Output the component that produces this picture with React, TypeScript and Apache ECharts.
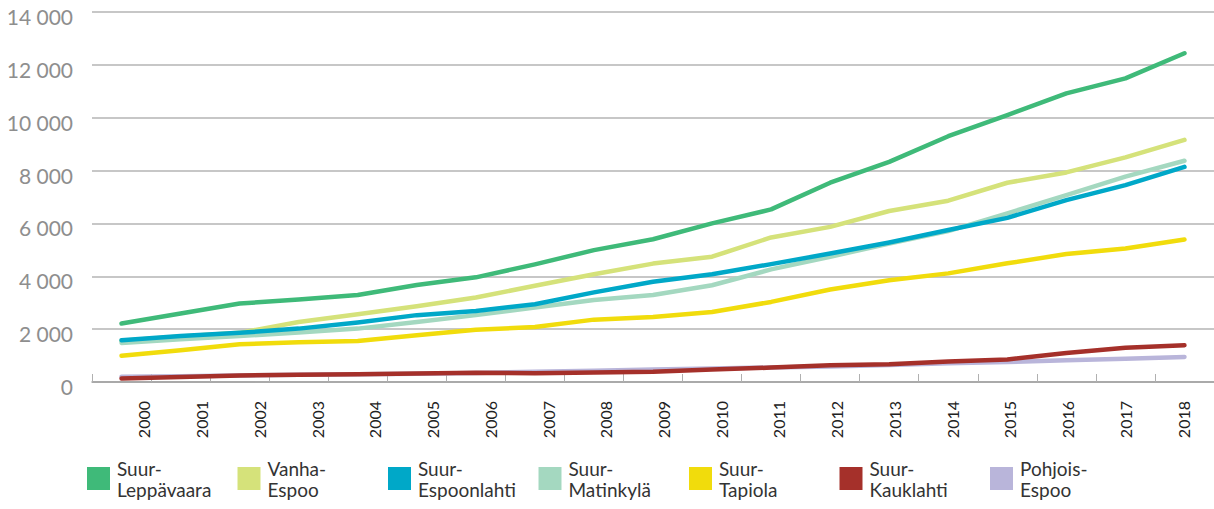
import React, { useEffect, useRef } from "react";
import * as echarts from "echarts";

const years = ["2000","2001","2002","2003","2004","2005","2006","2007","2008","2009","2010","2011","2012","2013","2014","2015","2016","2017","2018"];

const suurLeppavaara = [2210, 2590, 2970, 3120, 3290, 3670, 3960, 4450, 4990, 5400, 6000, 6530, 7540, 8330, 9300, 10100, 10920, 11490, 12440];
const vanhaEspoo = [1560, 1720, 1860, 2270, 2560, 2870, 3200, 3640, 4080, 4480, 4740, 5470, 5870, 6470, 6860, 7540, 7930, 8500, 9160];
const suurEspoonlahti = [1580, 1740, 1860, 2020, 2250, 2530, 2690, 2940, 3390, 3790, 4080, 4460, 4860, 5280, 5750, 6210, 6880, 7450, 8140];
const suurMatinkyla = [1480, 1620, 1740, 1870, 2020, 2270, 2530, 2820, 3100, 3290, 3660, 4260, 4740, 5240, 5710, 6380, 7070, 7770, 8370];
const suurTapiola = [990, 1200, 1430, 1500, 1550, 1770, 1980, 2080, 2360, 2460, 2650, 3030, 3500, 3850, 4110, 4490, 4840, 5050, 5390];
const suurKauklahti = [130, 190, 250, 270, 290, 320, 350, 330, 360, 390, 470, 545, 630, 670, 780, 850, 1100, 1300, 1390];
const pohjoisEspoo = [200, 220, 250, 270, 290, 310, 340, 390, 430, 470, 510, 550, 590, 640, 710, 760, 820, 880, 950];

const yTicks = [0, 2000, 4000, 6000, 8000, 10000, 12000, 14000];

const seriesDefs = [
  { name: "Suur-Leppävaara", data: suurLeppavaara, color: "#3fba79", z: 7 },
  { name: "Vanha-Espoo", data: vanhaEspoo, color: "#d5e27a", z: 3 },
  { name: "Suur-Espoonlahti", data: suurEspoonlahti, color: "#00a8c8", z: 5 },
  { name: "Suur-Matinkylä", data: suurMatinkyla, color: "#a4d8c0", z: 4 },
  { name: "Suur-Tapiola", data: suurTapiola, color: "#f1dc0c", z: 6 },
  { name: "Suur-Kauklahti", data: suurKauklahti, color: "#a5302a", z: 2 },
  { name: "Pohjois-Espoo", data: pohjoisEspoo, color: "#b9b5da", z: 1 },
];

const fmt = (v: number) => {
  const s = String(Math.round(v));
  return s.replace(/\B(?=(\d{3})+(?!\d))/g, " ");
};

export default function App() {
  const ref = useRef<HTMLDivElement>(null);
  useEffect(() => {
    if (!ref.current) return;
    const chart = echarts.init(ref.current, null, { renderer: "svg" });
    const font = "Lato";
    const option: any = {
      animation: false,
      textStyle: { fontFamily: font },
      grid: [
        { left: 92, right: 0, top: 12, bottom: 127, containLabel: false },
        { left: 115, right: 2, top: 12, bottom: 127, containLabel: false },
      ],
      xAxis: [
        {
          type: "category",
          gridIndex: 0,
          data: years,
          boundaryGap: true,
          axisLine: { show: true, lineStyle: { color: "#a0a0a0", width: 1.5 } },
          axisTick: { show: true, inside: true, length: 8, lineStyle: { color: "#b0b0b0", width: 1 } },
          axisLabel: { show: false },
        },
        {
          type: "category",
          gridIndex: 1,
          data: years,
          boundaryGap: true,
          axisLine: { show: false },
          axisTick: { show: false },
          axisLabel: {
            show: true,
            rotate: 90,
            margin: 19,
            fontSize: 16,
            color: "#222222",
            fontFamily: font,
          },
        },
      ],
      yAxis: [
        {
          type: "value",
          gridIndex: 0,
          min: 0,
          max: yTicks[yTicks.length - 1],
          interval: 2000,
          axisLine: { show: false },
          axisTick: { show: false },
          splitLine: { show: true, lineStyle: { color: "#b4b4b4", width: 1.5 } },
          axisLabel: {
            margin: 19,
            fontSize: 21,
            color: "#8e8e8e",
            fontFamily: font,
            verticalAlign: "top",
            lineHeight: 9,
            formatter: (v: number) => fmt(v),
          },
        },
        {
          type: "value",
          gridIndex: 1,
          min: 0,
          max: 14000,
          show: false,
        },
      ],
      legend: seriesDefs.map((s, i) => ({
        data: [s.name],
        left: 87 + 150.5 * i,
        top: 450,
        orient: "horizontal",
        itemWidth: 23,
        itemHeight: 23,
        icon: "rect",
        selectedMode: false,
        padding: 0,
        formatter: (name: string) => name.replace("-", "-\n"),
        textStyle: {
          fontFamily: font,
          fontSize: 19,
          color: "#333333",
          lineHeight: 21,
          padding: [15, 0, 0, 2],
        },
      })),
      series: seriesDefs.map((s) => ({
        name: s.name,
        type: "line",
        xAxisIndex: 0,
        yAxisIndex: 0,
        data: s.data,
        z: s.z,
        symbol: "none",
        showSymbol: false,
        color: s.color,
        lineStyle: { color: s.color, width: 4.5, cap: "round", join: "round" },
        itemStyle: { color: s.color },
      })),
    };
    chart.setOption(option);
    return () => chart.dispose();
  }, []);
  return (
    <div
      ref={ref}
      style={{ position: "fixed", left: 0, top: 0, width: 1214, height: 509, background: "#ffffff" }}
    />
  );
}
